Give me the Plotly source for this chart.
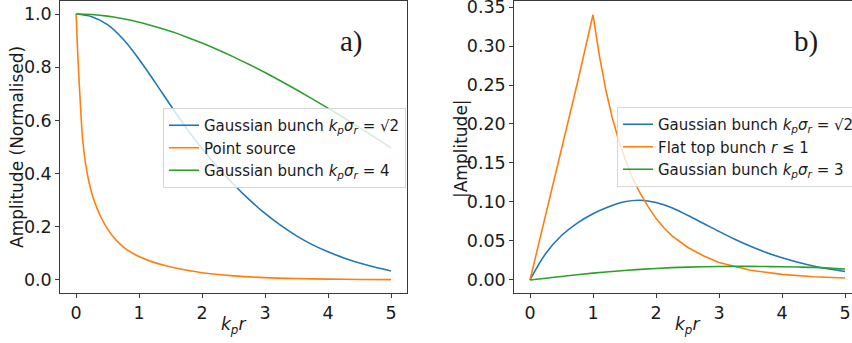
import plotly.graph_objects as go

# ---------------- data ----------------
# Panel a)
xa_smooth = [0, 0.25, 0.5, 0.75, 1.0, 1.25, 1.5, 1.75, 2.0, 2.25, 2.5, 2.75, 3.0,
             3.25, 3.5, 3.75, 4.0, 4.25, 4.5, 4.75, 5.0]
a_gauss_sqrt2 = [1.0, 0.99, 0.96, 0.905, 0.83, 0.745, 0.657, 0.572, 0.494, 0.424, 0.36,
                 0.302, 0.25, 0.205, 0.166, 0.133, 0.106, 0.083, 0.064, 0.048, 0.034]
a_gauss_4 = [1.0, 0.998, 0.992, 0.982, 0.969, 0.953, 0.935, 0.914, 0.891, 0.866, 0.839,
             0.810, 0.780, 0.748, 0.715, 0.681, 0.646, 0.610, 0.573, 0.535, 0.497]
xa_point = [0, 0.01, 0.02, 0.04, 0.07, 0.1, 0.15, 0.2, 0.25, 0.3, 0.4, 0.5, 0.6, 0.7,
            0.8, 1.0, 1.2, 1.4, 1.6, 1.8, 2.0, 2.5, 3.0, 3.5, 4.0, 4.5, 5.0]
a_point = [1.0, 0.96, 0.89, 0.79, 0.66, 0.545, 0.44, 0.375, 0.327, 0.29, 0.234, 0.192,
           0.16, 0.135, 0.115, 0.088, 0.069, 0.055, 0.044, 0.035, 0.027, 0.0155, 0.009,
           0.0055, 0.0033, 0.002, 0.0012]

# Panel b)
xb_smooth = [0, 0.25, 0.5, 0.75, 1.0, 1.25, 1.5, 1.75, 2.0, 2.25, 2.5, 2.75, 3.0,
             3.25, 3.5, 3.75, 4.0, 4.25, 4.5, 4.75, 5.0]
b_gauss_sqrt2 = [0, 0.034, 0.057, 0.073, 0.085, 0.094, 0.1003, 0.1022, 0.0993,
                 0.0925, 0.083, 0.0727, 0.0622, 0.0522, 0.0432, 0.0352, 0.0284, 0.0228,
                 0.018, 0.0141, 0.0108]
b_gauss_3 = [0, 0.0023, 0.0045, 0.0067, 0.0088, 0.0106, 0.0122, 0.0136, 0.0148,
             0.0158, 0.0165, 0.017, 0.0173, 0.0174, 0.0174, 0.0172, 0.017, 0.0166,
             0.0161, 0.0152, 0.0140]
xb_flat = [0, 0.25, 0.5, 0.75, 1.0, 1.1, 1.2, 1.3, 1.4, 1.5, 1.625, 1.75, 1.875, 2.0,
           2.125, 2.25, 2.5, 2.75, 3.0, 3.5, 4.0, 4.5, 5.0]
b_flat = [0, 0.083, 0.166, 0.252, 0.340, 0.288, 0.245, 0.210, 0.181, 0.157, 0.131,
          0.111, 0.094, 0.079, 0.067, 0.057, 0.042, 0.031, 0.0225, 0.0125, 0.0072,
          0.0042, 0.0025]

names_a = ["Gaussian bunch <i>k</i><sub><i>p</i></sub><i>σ</i><sub><i>r</i></sub> = √2",
           "Point source",
           "Gaussian bunch <i>k</i><sub><i>p</i></sub><i>σ</i><sub><i>r</i></sub> = 4"]
names_b = ["Gaussian bunch <i>k</i><sub><i>p</i></sub><i>σ</i><sub><i>r</i></sub> = √2",
           "Flat top bunch <i>r</i> ≤ 1",
           "Gaussian bunch <i>k</i><sub><i>p</i></sub><i>σ</i><sub><i>r</i></sub> = 3"]

BLUE, ORANGE, GREEN = "#1f77b4", "#ff7f0e", "#2ca02c"
W, H = 852, 343
FONT = "DejaVu Sans"
TXT = "#1a1a1a"

fig = go.Figure()
lw = 1.6
fig.add_trace(go.Scatter(x=xa_smooth, y=a_gauss_sqrt2, mode="lines", name=names_a[0],
                         line=dict(color=BLUE, width=lw, shape="spline"),
                         xaxis="x", yaxis="y", legend="legend"))
fig.add_trace(go.Scatter(x=xa_point, y=a_point, mode="lines", name=names_a[1],
                         line=dict(color=ORANGE, width=lw, shape="spline", smoothing=0.8),
                         xaxis="x", yaxis="y", legend="legend"))
fig.add_trace(go.Scatter(x=xa_smooth, y=a_gauss_4, mode="lines", name=names_a[2],
                         line=dict(color=GREEN, width=lw, shape="spline"),
                         xaxis="x", yaxis="y", legend="legend"))

fig.add_trace(go.Scatter(x=xb_smooth, y=b_gauss_sqrt2, mode="lines", name=names_b[0],
                         line=dict(color=BLUE, width=lw, shape="spline"),
                         xaxis="x2", yaxis="y2", legend="legend2"))
fig.add_trace(go.Scatter(x=xb_flat, y=b_flat, mode="lines", name=names_b[1],
                         line=dict(color=ORANGE, width=lw),
                         xaxis="x2", yaxis="y2", legend="legend2"))
fig.add_trace(go.Scatter(x=xb_smooth, y=b_gauss_3, mode="lines", name=names_b[2],
                         line=dict(color=GREEN, width=lw, shape="spline"),
                         xaxis="x2", yaxis="y2", legend="legend2"))

top, bot = 1, 50
ph = H - top - bot
axis_common = dict(showgrid=False, zeroline=False, showline=True, linecolor="#3a3a3a",
                   linewidth=1, ticks="outside", ticklen=4, tickwidth=1,
                   tickcolor="#3a3a3a", ticklabeloverflow="allow", automargin=False,
                   tickfont=dict(family=FONT, size=17.5, color=TXT))

fig.update_layout(
    width=W, height=H, margin=dict(l=0, r=0, t=top, b=bot, autoexpand=False),
    paper_bgcolor="white", plot_bgcolor="white",
    font=dict(family=FONT, size=15, color=TXT),
    xaxis=dict(domain=[60.25 / W, 406.75 / W], range=[-0.25, 5.25], dtick=1, tick0=0,
               mirror=True, anchor="y", **axis_common),
    yaxis=dict(domain=[0, 1], range=[-0.049, 1.049], dtick=0.2, tick0=0, tickformat=".1f",
               mirror=True, anchor="x", **axis_common),
    xaxis2=dict(domain=[514.25 / W, 1.0], range=[-0.25, -0.25 + (W - 514.25) / 63.0],
                dtick=1, tick0=0, mirror=True, anchor="y2", **axis_common),
    yaxis2=dict(domain=[0, 1], range=[-0.0167, 0.3577], dtick=0.05, tick0=0,
                tickformat=".2f", mirror=False, anchor="x2", **axis_common),
    legend=dict(x=163 / W, y=(H - bot - 108) / ph, xanchor="left", yanchor="top",
                bgcolor="rgba(255,255,255,0.8)", bordercolor="#d6d6d6", borderwidth=1,
                font=dict(family=FONT, size=15, color=TXT)),
    legend2=dict(x=617 / W, y=(H - bot - 107) / ph, xanchor="left", yanchor="top",
                 bgcolor="rgba(255,255,255,0.8)", bordercolor="#d6d6d6", borderwidth=1,
                 font=dict(family=FONT, size=15, color=TXT)),
    showlegend=True,
)

def py(ypix):
    return (H - bot - ypix) / ph

annotations = [
    dict(text="Amplitude (Normalised)", x=17 / W, y=py(147), textangle=-90,
         font=dict(family=FONT, size=17)),
    dict(text="|Amplitude|", x=461 / W, y=py(149), textangle=-90,
         font=dict(family=FONT, size=17)),
    dict(text="<i>k</i><sub><i>p</i></sub><i>r</i>", x=233 / W, y=py(325),
         font=dict(family=FONT, size=17)),
    dict(text="<i>k</i><sub><i>p</i></sub><i>r</i>", x=687 / W, y=py(325),
         font=dict(family=FONT, size=17)),
    dict(text="a)", x=351 / W, y=py(41), font=dict(family="Liberation Serif", size=29)),
    dict(text="b)", x=806 / W, y=py(41), font=dict(family="Liberation Serif", size=29)),
]
for a in annotations:
    a.update(xref="paper", yref="paper", showarrow=False, xanchor="center",
             yanchor="middle")
fig.update_layout(annotations=annotations)

fig.write_html("out.html")
